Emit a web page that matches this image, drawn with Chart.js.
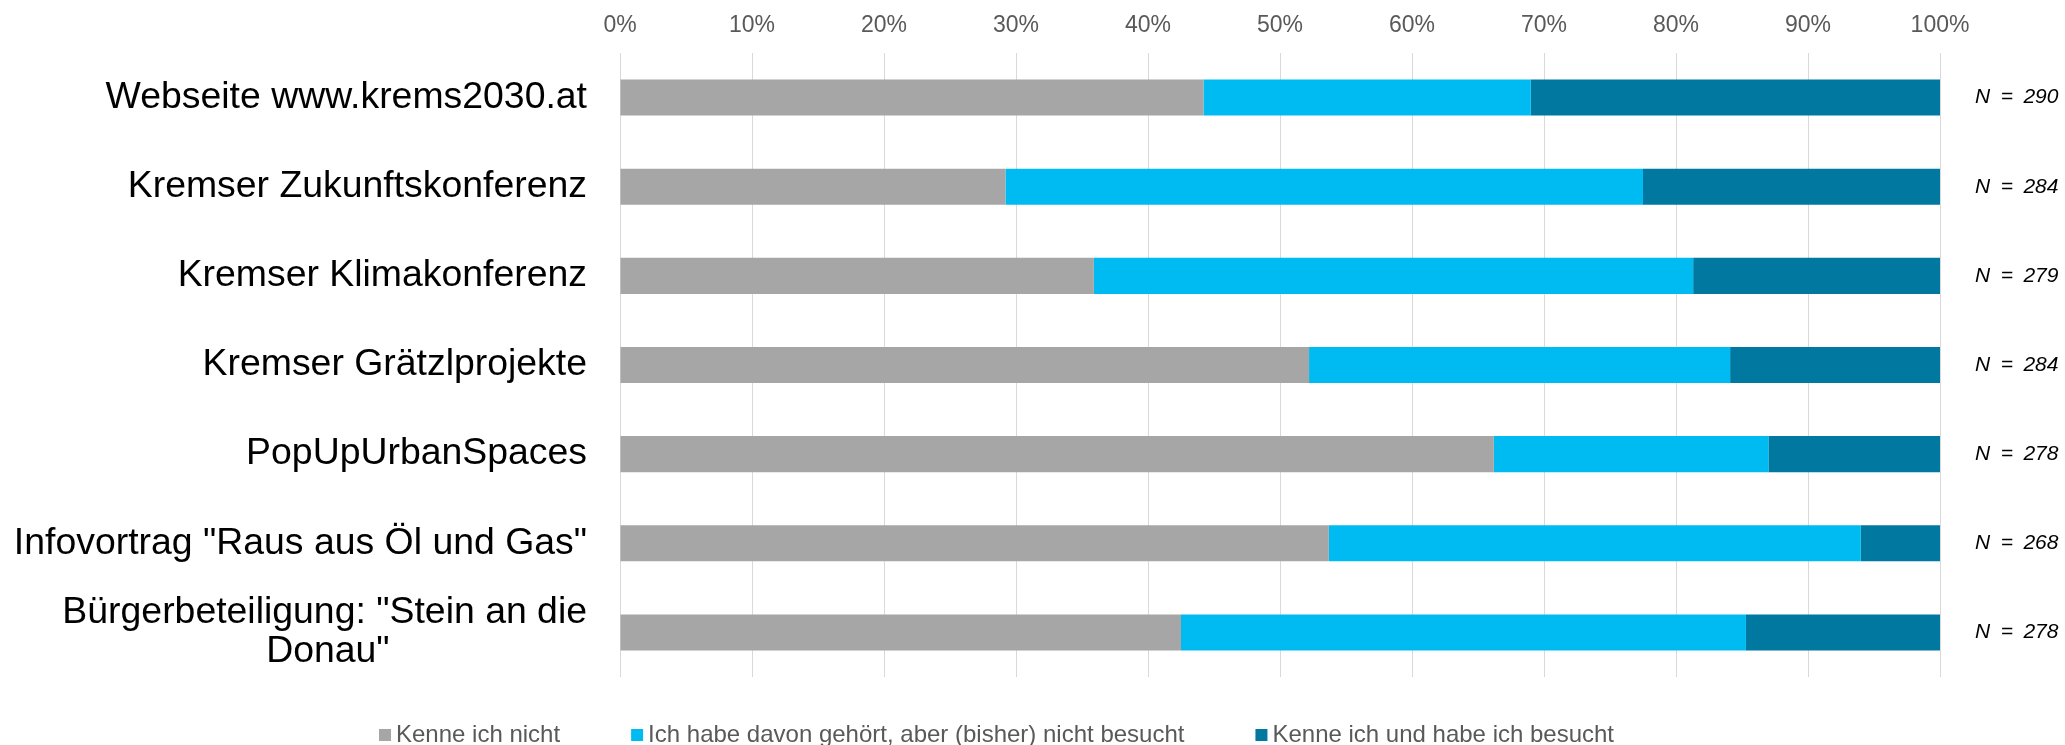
<!DOCTYPE html>
<html>
<head>
<meta charset="utf-8">
<script src="https://cdn.jsdelivr.net/npm/chart.js@4"></script>
<style>
  html, body { margin: 0; padding: 0; background: #ffffff; overflow: hidden; }
  #wrap { position: relative; width: 2065px; height: 745px; }
</style>
</head>
<body>
<div id="wrap"><canvas id="c"></canvas></div>
<script>
// ---- data ----
const categories = [
  'Webseite www.krems2030.at',
  'Kremser Zukunftskonferenz',
  'Kremser Klimakonferenz',
  'Kremser Grätzlprojekte',
  'PopUpUrbanSpaces',
  'Infovortrag "Raus aus Öl und Gas"',
  ['Bürgerbeteiligung: "Stein an die', 'Donau"']
];
const nValues = [290, 284, 279, 284, 278, 268, 278];
const seriesNames = [
  'Kenne ich nicht',
  'Ich habe davon gehört, aber (bisher) nicht besucht',
  'Kenne ich und habe ich besucht'
];
const kenneNicht = [44.2, 29.2, 35.9, 52.2, 66.2, 53.7, 42.5];
const gehoert    = [24.8, 48.3, 45.4, 31.9, 20.8, 40.3, 42.8];
const besucht    = [31.0, 22.5, 18.7, 15.9, 13.0, 6.0, 14.7];
const xTicks = [0, 10, 20, 30, 40, 50, 60, 70, 80, 90, 100];

// ---- styles ----
const FONT = '"Liberation Sans", Arial, sans-serif';
const colors = ['#a6a6a6', '#00bbf2', '#00789f'];
const nLabels = nValues.map(n => 'N\u2002=\u2002' + n);

const catFontSize = 37.4;
const measureCtx = document.createElement('canvas').getContext('2d');
measureCtx.font = catFontSize + 'px ' + FONT;
function centerLines(lbl) {
  if (!Array.isArray(lbl)) return lbl;
  const widths = lbl.map(s => measureCtx.measureText(s).width);
  const maxW = Math.max(...widths);
  const sp = measureCtx.measureText('\u00a0').width;
  return lbl.map((s, i) => s + '\u00a0'.repeat(Math.round((maxW - widths[i]) / 2 / sp)));
}

const legendPlugin = {
  id: 'customLegend',
  afterDraw(chart) {
    const ctx = chart.ctx;
    ctx.save();
    ctx.font = '24px ' + FONT;
    ctx.textBaseline = 'middle';
    ctx.textAlign = 'left';
    let x = 379;
    const yMid = 735;
    chart.data.datasets.forEach(ds => {
      ctx.fillStyle = ds.backgroundColor;
      ctx.fillRect(x, yMid - 6, 12, 12);
      ctx.fillStyle = '#595959';
      ctx.fillText(ds.label, x + 17, yMid);
      x += 17 + ctx.measureText(ds.label).width + 71;
    });
    ctx.restore();
  }
};

function noVPad(scale) { scale.paddingTop = 0; scale.paddingBottom = 0; }

new Chart(document.getElementById('c'), {
  type: 'bar',
  data: {
    labels: categories,
    datasets: [
      { label: seriesNames[0], data: kenneNicht, backgroundColor: colors[0] },
      { label: seriesNames[1], data: gehoert, backgroundColor: colors[1] },
      { label: seriesNames[2], data: besucht, backgroundColor: colors[2] }
    ]
  },
  options: {
    indexAxis: 'y',
    responsive: true,
    maintainAspectRatio: false,
    animation: false,
    layout: { padding: { top: 0, bottom: 68, left: 0, right: 0 } },
    datasets: { bar: { categoryPercentage: 1.0, barPercentage: 0.405, borderWidth: 0 } },
    plugins: {
      legend: { display: false },
      tooltip: { enabled: false }
    },
    scales: {
      x: {
        type: 'linear',
        position: 'top',
        stacked: true,
        min: 0,
        max: 100,
        afterBuildTicks(scale) { scale.ticks = xTicks.map(v => ({ value: v })); },
        afterFit(scale) { scale.height = 53; },
        ticks: {
          padding: 14,
          color: '#595959',
          font: { family: FONT, size: 23 },
          callback: v => v + '%'
        },
        grid: { color: '#d9d9d9', lineWidth: 1, drawTicks: false },
        border: { display: false }
      },
      y: {
        type: 'category',
        position: 'left',
        stacked: true,
        offset: true,
        afterFit(scale) { scale.width = 620; noVPad(scale); },
        ticks: {
          padding: 33,
          color: '#000000',
          font: { family: FONT, size: catFontSize, lineHeight: 1.05 },
          autoSkip: false,
          callback(value, index) { return centerLines(categories[index]); }
        },
        grid: { display: false, drawTicks: false },
        border: { display: false }
      },
      yN: {
        type: 'category',
        position: 'right',
        labels: nLabels,
        offset: true,
        afterFit(scale) { scale.width = 125; noVPad(scale); },
        ticks: {
          padding: 35,
          color: '#000000',
          autoSkip: false,
          font: { family: FONT, size: 21, style: 'italic' }
        },
        grid: { display: false, drawTicks: false },
        border: { display: false }
      }
    }
  },
  plugins: [legendPlugin]
});
</script>
</body>
</html>
